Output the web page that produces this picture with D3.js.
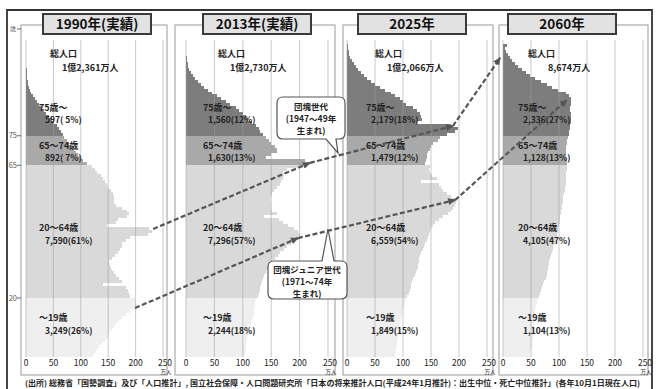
<!DOCTYPE html>
<html>
<head>
<meta charset="utf-8">
<script src="https://cdn.jsdelivr.net/npm/d3@7"></script>
<style>
body { margin: 0; background: #fff; }
text { font-family: "Noto Sans CJK JP", "Noto Sans", sans-serif; fill: #222; }
</style>
</head>
<body>
<div id="canvas"></div>
<script>
// 各年の年齢別人口 (万人), 0歳〜105歳
var pop1990 = [
  122,125,130,134,138,144,149,152,153,157,
  160,165,170,176,182,190,198,203,201,199,
  190,188,186,183,140,175,170,165,160,157,
  155,154,152,157,163,168,172,175,176,182,
  190,222,230,225,148,165,168,185,188,185,
  175,165,160,160,160,158,155,150,148,145,
  140,136,130,125,120,112,104,99,95,91,
  87,83,79,74,70,68,64,60,56,52,
  47,42,37,33,29,24,20,16,13,10,
  8,6,4,3,2,2,1,1,0.5,0.5,
  0.3,0,0,0,0,0];
var pop2013 = [
  103,104,105,106,106,107,108,110,111,111,
  113,115,117,118,119,120,120,122,122,123,
  126,128,130,131,132,134,135,137,140,143,
  145,148,152,156,162,166,172,178,184,192,
  198,200,198,190,180,170,163,137,160,152,
  150,150,150,148,150,152,155,160,165,168,
  170,172,170,178,205,215,210,140,150,160,
  160,156,150,146,140,135,131,128,124,116,
  110,105,100,94,88,78,70,62,54,46,
  39,32,26,21,16,12,9,6,4,3,
  2,1,0.6,0.4,0.2,0.1];
var pop2025 = [
  86,87,88,89,90,90,91,92,92,93,
  94,95,96,97,98,99,100,101,103,105,
  108,110,112,114,115,116,118,121,123,125,
  126,127,128,129,131,133,135,137,140,143,
  145,146,148,150,153,158,165,172,180,186,
  190,193,195,192,186,178,172,168,165,132,
  160,152,148,146,148,140,141,142,143,145,
  148,150,153,162,166,178,192,198,185,125,
  134,133,130,125,118,105,100,94,86,78,
  68,59,50,42,35,30,25,20,16,12,
  9,6,4,3,2,2];
var pop2060 = [
  48,49,50,51,52,52,53,54,54,55,
  55,56,56,57,57,58,58,59,60,61,
  64,66,68,70,72,74,76,78,79,80,
  81,82,83,84,86,88,89,90,92,94,
  96,97,98,99,100,101,102,102,103,104,
  105,106,107,108,108,109,110,111,112,112,
  113,113,113,114,114,114,114,113,113,112,
  112,113,114,115,116,117,118,119,120,121,
  122,122,121,120,120,121,122,122,118,112,
  98,88,78,68,58,49,41,34,27,21,
  16,12,9,6,4,7];

var panelTitles = ["1990年(実績)", "2013年(実績)", "2025年", "2060年"];
var totalLabels = ["1億2,361万人", "1億2,730万人", "1億2,066万人", "8,674万人"];
var groupNames = ["75歳～", "65～74歳", "20～64歳", "～19歳"];
var groupLabels = [
  ["597( 5%)", "892( 7%)", "7,590(61%)", "3,249(26%)"],
  ["1,560(12%)", "1,630(13%)", "7,296(57%)", "2,244(18%)"],
  ["2,179(18%)", "1,479(12%)", "6,559(54%)", "1,849(15%)"],
  ["2,336(27%)", "1,128(13%)", "4,105(47%)", "1,104(13%)"]
];
var xTicks = [0, 50, 100, 150, 200, 250];
var ageTicks = [20, 65, 75];

// 団塊世代 / 団塊ジュニア世代 の位置 [人口, 年齢] (各年)
var boomers = [[232, 43.4], [218, 65.8], [189, 78.3], [-5, 101.4]];
var juniors = [[199, 16.6], [197, 40.3], [193, 53.2], [114, 87.1]];

var footnote = "(出所) 総務省「国勢調査」及び「人口推計」, 国立社会保障・人口問題研究所「日本の将来推計人口(平成24年1月推計)：出生中位・死亡中位推計」(各年10月1日現在人口)";

var Pyramid = (function() {
    var that = { svg: null, w: 657, h: 389 };
    var pops = [pop1990, pop2013, pop2025, pop2060];
    var colors = ["#7d7d7d", "#a9a9a9", "#d9d9d9", "#efefef"];
    var panels = [
        { left: 21,  right: 167, x0: 26,  x1: 163, titleX: 97,  totX: [50, 62],  grpX: [13, 19] },
        { left: 175, right: 335, x0: 186, x1: 328, titleX: 257, totX: [218, 230], grpX: [17, 22] },
        { left: 343, right: 493, x0: 347, x1: 487, titleX: 412, totX: [375, 387], grpX: [19, 24] },
        { left: 499, right: 648, x0: 503, x1: 643, titleX: 562, totX: [528, 548], grpX: [15, 20] }
    ];
    var grpY = [[108, 120], [146, 158], [228, 241], [318, 331]];
    var y = d3.scaleLinear().domain([0, 100]).range([357, 62]);

    function ageGroup(a) { return a >= 75 ? 0 : a >= 65 ? 1 : a >= 20 ? 2 : 3; }

    that.init = function() {
        that.svg = d3.select("#canvas").append("svg").attr("width", that.w).attr("height", that.h);
        var defs = that.svg.append("defs");
        defs.append("marker").attr("id", "arrow")
            .attr("markerUnits", "userSpaceOnUse")
            .attr("markerWidth", 9).attr("markerHeight", 8)
            .attr("refX", 7).attr("refY", 4).attr("orient", "auto")
            .append("path").attr("d", "M0,0.5 L8,4 L0,7.5 Z").attr("fill", "#555");

        // 外枠
        that.svg.append("path").attr("d", "M7,389 V10 H652 V389")
            .attr("fill", "none").attr("stroke", "#333").attr("stroke-width", 1.8);

        panels.forEach(function(p, i) { that.drawPanel(p, i); });
        that.drawAgeAxis();
        that.drawCohort(boomers);
        that.drawCohort(juniors);
        that.drawCallouts();

        that.svg.append("text").attr("x", 25).attr("y", 386)
            .attr("textLength", 615).attr("lengthAdjust", "spacingAndGlyphs")
            .style("font-size", "7.5px").style("font-weight", "bold")
            .text(footnote);
    };

    that.drawPanel = function(p, i) {
        var g = that.svg.append("g").attr("name", "panel" + i);
        p.x = d3.scaleLinear().domain([0, 250]).range([p.x0, p.x1]);

        g.append("rect").attr("x", p.left).attr("y", 25)
            .attr("width", p.right - p.left).attr("height", 350)
            .attr("fill", "#fff").attr("stroke", "#9a9a9a").attr("stroke-width", 1);

        // 年齢別の棒
        g.append("g").attr("name", "bars").selectAll("rect")
            .data(pops[i].map(function(v, a) { return { age: a, v: v }; }))
            .enter().append("rect")
            .attr("x", p.x(0))
            .attr("y", function(d) { return y(d.age + 1); })
            .attr("width", function(d) { return p.x(d.v) - p.x(0); })
            .attr("height", function(d) { return y(d.age) - y(d.age + 1); })
            .attr("fill", function(d) { return colors[ageGroup(d.age)]; })
            .attr("shape-rendering", "crispEdges");

        // 目盛線
        g.append("g").selectAll("line").data(xTicks).enter().append("line")
            .attr("x1", function(d) { return p.x(d); }).attr("x2", function(d) { return p.x(d); })
            .attr("y1", 40).attr("y2", 357)
            .attr("stroke", "#a0a0a0").attr("stroke-width", 0.8).attr("stroke-opacity", 0.7);

        g.append("g").selectAll("text").data(xTicks).enter().append("text")
            .attr("x", function(d) { return p.x(d) + (d == 250 ? 2 : 0); })
            .attr("y", 366).attr("text-anchor", "middle")
            .style("font-size", "8.5px")
            .text(function(d) { return d; });
        g.append("text").attr("x", p.x(250) + 3).attr("y", 374).attr("text-anchor", "middle")
            .style("font-size", "5.5px").text("万人");

        // タイトル
        g.append("rect").attr("x", p.titleX - 54).attr("y", 14).attr("width", 108).attr("height", 20)
            .attr("fill", "#e2e2e2").attr("stroke", "#3a3a3a").attr("stroke-width", 2);
        g.append("text").attr("x", p.titleX).attr("y", 29).attr("text-anchor", "middle")
            .style("font-size", "13.5px").style("font-weight", "bold").style("fill", "#111")
            .text(panelTitles[i]);

        g.append("text").attr("x", p.totX[0]).attr("y", 57)
            .style("font-size", "9px").style("font-weight", "bold").text("総人口");
        g.append("text").attr("x", p.totX[1]).attr("y", 71)
            .style("font-size", "9px").style("font-weight", "bold").text(totalLabels[i]);

        groupNames.forEach(function(name, k) {
            g.append("text").attr("x", p.x0 + p.grpX[0]).attr("y", grpY[k][0]).attr("dy", "0.35em")
                .style("font-size", "9px").style("font-weight", "bold").text(name);
            g.append("text").attr("x", p.x0 + p.grpX[1]).attr("y", grpY[k][1]).attr("dy", "0.35em")
                .style("font-size", "8.5px").style("font-weight", "bold").text(groupLabels[i][k]);
        });
    };

    that.drawAgeAxis = function() {
        var g = that.svg.append("g").attr("name", "age-axis");
        g.selectAll("line").data(ageTicks).enter().append("line")
            .attr("x1", 17).attr("x2", 21)
            .attr("y1", function(d) { return y(d); }).attr("y2", function(d) { return y(d); })
            .attr("stroke", "#666");
        g.selectAll("text").data(ageTicks).enter().append("text")
            .attr("x", 17).attr("y", function(d) { return y(d); }).attr("dy", "0.35em")
            .attr("text-anchor", "end").style("font-size", "7.5px").style("fill", "#555")
            .text(function(d) { return d; });
        g.append("line").attr("x1", 17).attr("x2", 21).attr("y1", 29).attr("y2", 29).attr("stroke", "#666");
        g.append("text").attr("x", 16).attr("y", 29).attr("dy", "0.35em").attr("text-anchor", "end")
            .style("font-size", "6px").style("fill", "#555").text("歳");
    };

    that.drawCohort = function(pts) {
        var line = d3.line();
        for (var i = 0; i < pts.length - 1; i++) {
            var a = [panels[i].x(pts[i][0]), y(pts[i][1])];
            var b = [panels[i + 1].x(pts[i + 1][0]), y(pts[i + 1][1])];
            that.svg.append("path").attr("d", line([a, b]))
                .attr("fill", "none").attr("stroke", "#555").attr("stroke-width", 2.2)
                .attr("stroke-dasharray", "5,2.5")
                .attr("marker-end", "url(#arrow)");
        }
    };

    that.drawCallouts = function() {
        var g = that.svg.append("g").attr("name", "callouts");
        g.append("path")
            .attr("d", "M283,97 H339 Q345,97 345,103 V133 Q345,139 339,139 H336 L338,153 L326,139 H283 Q277,139 277,133 V103 Q277,97 283,97 Z")
            .attr("fill", "#fff").attr("stroke", "#555").attr("stroke-width", 1.2);
        g.append("path")
            .attr("d", "M274,261 H322 L328,229 L334,261 H341 Q347,261 347,267 V293 Q347,299 341,299 H274 Q268,299 268,293 V267 Q268,261 274,261 Z")
            .attr("fill", "#fff").attr("stroke", "#555").attr("stroke-width", 1.2);
        var t1 = ["団塊世代", "(1947～49年", "生まれ)"];
        var t2 = ["団塊ジュニア世代", "(1971～74年", "生まれ)"];
        t1.forEach(function(s, k) {
            g.append("text").attr("x", 311).attr("y", 107 + k * 12).attr("dy", "0.32em")
                .attr("text-anchor", "middle").style("font-size", "8.5px").style("font-weight", "bold").text(s);
        });
        t2.forEach(function(s, k) {
            g.append("text").attr("x", 307).attr("y", 270 + k * 12).attr("dy", "0.32em")
                .attr("text-anchor", "middle").style("font-size", "8.5px").style("font-weight", "bold").text(s);
        });
    };

    return that;
})();

Pyramid.init();
</script>
</body>
</html>
